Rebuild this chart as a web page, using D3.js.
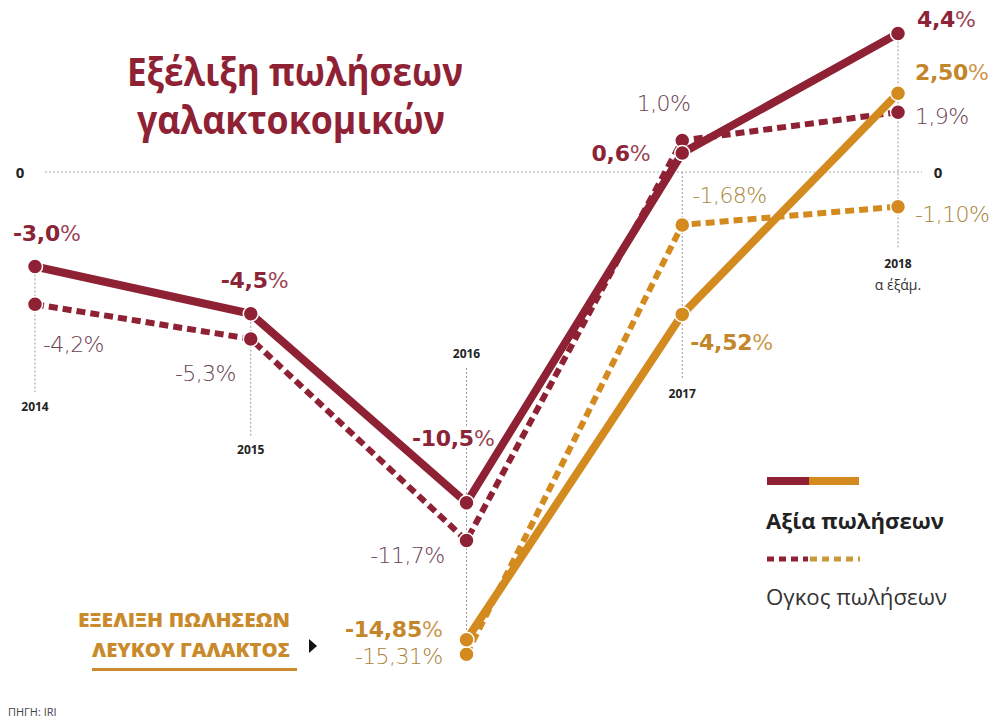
<!DOCTYPE html>
<html>
<head>
<meta charset="UTF-8">
<title>Εξέλιξη πωλήσεων γαλακτοκομικών</title>
<script src="https://cdn.jsdelivr.net/npm/d3@7"></script>
<style>
  body { margin: 0; background: #fff; }
  text { font-family: "Open Sans", "Noto Sans", sans-serif; }
  .halo { paint-order: stroke; stroke: #fff; stroke-width: 4px; stroke-linejoin: round; }
</style>
</head>
<body>
<script>
var w = 995, h = 721;

// data
var years = ["2014", "2015", "2016", "2017", "2018"];
var dairyValue  = [-3.0, -4.5, -10.5, 0.6, 4.4];
var dairyVolume = [-4.2, -5.3, -11.7, 1.0, 1.9];
var milkYears   = ["2016", "2017", "2018"];
var milkValue   = [-14.85, -4.52, 2.50];
var milkVolume  = [-15.31, -1.68, -1.10];
var dairyLabels = ["-3,0", "-4,5", "-10,5", "0,6", "4,4"];
var dairyVolLabels = ["-4,2%", "-5,3%", "-11,7%", "1,0%", "1,9%"];
var milkLabels = ["-14,85", "-4,52", "2,50"];
var milkVolLabels = ["-15,31%", "-1,68%", "-1,10%"];

var red = "#8e2234", orange = "#d38a1f";
var redText = "#8a2436", mauve = "#6a4152", tan = "#a8843c";

var x = d3.scalePoint().domain(years).range([35, 898]);
var y = d3.scaleLinear().domain([0, -10]).range([172, 487]);

var svg = d3.select("body").append("svg")
  .attr("width", w).attr("height", h);

// title
svg.append("text").attr("x", 127).attr("y", 86)
  .attr("fill", red).style("font-size", "39px").style("font-weight", 700)
  .attr("textLength", 336).attr("lengthAdjust", "spacingAndGlyphs")
  .text("Εξέλιξη πωλήσεων");
svg.append("text").attr("x", 137).attr("y", 134)
  .attr("fill", red).style("font-size", "39px").style("font-weight", 700)
  .attr("textLength", 308).attr("lengthAdjust", "spacingAndGlyphs")
  .text("γαλακτοκομικών");

// zero line
svg.append("line").attr("x1", 45).attr("x2", 922).attr("y1", y(0)).attr("y2", y(0))
  .attr("stroke", "#aaa").attr("stroke-width", 1).attr("stroke-dasharray", "2,2");
svg.append("text").attr("x", 20).attr("y", y(0) + 6).attr("text-anchor", "middle")
  .style("font-size", "15px").style("font-weight", 700).attr("fill", "#222").text("0");
svg.append("text").attr("x", 938).attr("y", y(0) + 6).attr("text-anchor", "middle")
  .style("font-size", "15px").style("font-weight", 700).attr("fill", "#222").text("0");

// year guides
var guides = [
  {y1: y(dairyValue[0]), y2: 392, ly: 411},
  {y1: y(dairyValue[1]), y2: 436, ly: 454},
  {y1: 368, y2: y(milkVolume[0]), ly: 358},
  {y1: y(0), y2: 380, ly: 398},
  {y1: y(dairyValue[4]), y2: 248, ly: 268}
];
svg.selectAll(".guide").data(years).enter().append("line")
  .attr("class", "guide")
  .attr("x1", d => x(d)).attr("x2", d => x(d))
  .attr("y1", (d, i) => guides[i].y1).attr("y2", (d, i) => guides[i].y2)
  .attr("stroke", "#999").attr("stroke-width", 1).attr("stroke-dasharray", "2,2");
svg.selectAll(".year").data(years).enter().append("text")
  .attr("class", "year")
  .attr("x", d => x(d)).attr("y", (d, i) => guides[i].ly)
  .attr("text-anchor", "middle").attr("fill", "#222")
  .style("font-size", "12px").style("font-weight", 700).text(d => d);
svg.append("text").attr("x", x("2018")).attr("y", 290).attr("text-anchor", "middle")
  .attr("fill", "#333").style("font-size", "14px").text("α ΄εξάμ.");

var line = d3.line().x(d => x(d[0])).y(d => y(d[1]));

function series(keys, vals, color, dashed) {
  var pts = keys.map((k, i) => [k, vals[i]]);
  svg.append("path").datum(pts).attr("d", line)
    .attr("fill", "none").attr("stroke", color)
    .attr("stroke-width", dashed ? 6 : 8)
    .attr("stroke-dasharray", dashed ? "9,5" : null);
  svg.selectAll(null).data(pts).enter().append("circle")
    .attr("cx", d => x(d[0])).attr("cy", d => y(d[1])).attr("r", 7.5)
    .attr("fill", color).attr("stroke", "#fff").attr("stroke-width", 1.5);
}
series(years, dairyVolume, red, true);
series(years, dairyValue, red, false);
series(milkYears, milkVolume, orange, true);
series(milkYears, milkValue, orange, false);

// label offsets relative to points
var dvOff = [[-22, -26, "start"], [-30, -26, "start"], [28, -57, "end"], [-32, 8, "end"], [19, -6, "start"]];
var dvolOff = [[8, 48, "start"], [-15, 42, "end"], [-22, 22, "end"], [8, -30, "end"], [17, 12, "start"]];
var mvOff = [[-24, -3, "end"], [8, 36, "start"], [17, -13, "start"]];
var mvolOff = [[-24, 10, "end"], [10, -22, "start"], [17, 15, "start"]];

function boldLabels(keys, vals, labels, off, color) {
  var t = svg.selectAll(null).data(keys).enter().append("text")
    .attr("class", "halo")
    .attr("x", (d, i) => x(d) + off[i][0]).attr("y", (d, i) => y(vals[i]) + off[i][1])
    .attr("text-anchor", (d, i) => off[i][2]).attr("fill", color)
    .style("font-family", "'DejaVu Sans', sans-serif")
    .style("font-size", "22px").style("letter-spacing", "-0.3px");
  t.append("tspan").style("font-weight", 700).text((d, i) => labels[i]);
  t.append("tspan").style("font-weight", 400).style("opacity", 0.85).text("%");
}
function plainLabels(keys, vals, labels, off, color) {
  svg.selectAll(null).data(keys).enter().append("text")
    .attr("class", "halo")
    .attr("x", (d, i) => x(d) + off[i][0]).attr("y", (d, i) => y(vals[i]) + off[i][1])
    .attr("text-anchor", (d, i) => off[i][2]).attr("fill", color)
    .style("font-family", "'DejaVu Sans', sans-serif")
    .style("font-size", "22px").style("font-weight", 200).style("letter-spacing", "-0.6px")
    .text((d, i) => labels[i]);
}
boldLabels(years, dairyValue, dairyLabels, dvOff, redText);
plainLabels(years, dairyVolume, dairyVolLabels, dvolOff, mauve);
boldLabels(milkYears, milkValue, milkLabels, mvOff, "#c4862a");
plainLabels(milkYears, milkVolume, milkVolLabels, mvolOff, tan);

// milk label
svg.append("text").attr("x", 78).attr("y", 627)
  .attr("fill", "#c98a2c").style("font-size", "19px").style("font-weight", 800)
  .attr("textLength", 212).attr("lengthAdjust", "spacingAndGlyphs")
  .text("ΕΞΕΛΙΞΗ ΠΩΛΗΣΕΩΝ");
svg.append("text").attr("x", 92).attr("y", 657)
  .attr("fill", "#c98a2c").style("font-size", "19px").style("font-weight", 800)
  .attr("textLength", 198).attr("lengthAdjust", "spacingAndGlyphs")
  .text("ΛΕΥΚΟΥ ΓΑΛΑΚΤΟΣ");
svg.append("rect").attr("x", 92).attr("y", 668).attr("width", 205).attr("height", 3)
  .attr("fill", "#c98a2c");
svg.append("path").attr("d", "M309,639 L317,646 L309,653 Z").attr("fill", "#111");

// legend
svg.append("rect").attr("x", 767).attr("y", 477).attr("width", 42).attr("height", 8).attr("fill", red);
svg.append("rect").attr("x", 809).attr("y", 477).attr("width", 50).attr("height", 8).attr("fill", orange);
svg.append("text").attr("x", 766).attr("y", 529).attr("fill", "#222")
  .style("font-size", "22px").style("font-weight", 700)
  .attr("textLength", 178).attr("lengthAdjust", "spacingAndGlyphs").text("Αξία πωλήσεων");
svg.append("line").attr("x1", 767).attr("x2", 808).attr("y1", 559).attr("y2", 559)
  .attr("stroke", red).attr("stroke-width", 5).attr("stroke-dasharray", "7,5");
svg.append("line").attr("x1", 810).attr("x2", 860).attr("y1", 559).attr("y2", 559)
  .attr("stroke", "#c99a3a").attr("stroke-width", 5).attr("stroke-dasharray", "7,5");
svg.append("text").attr("x", 766).attr("y", 605).attr("fill", "#333")
  .style("font-size", "22px")
  .attr("textLength", 181).attr("lengthAdjust", "spacingAndGlyphs").text("Ογκος πωλήσεων");

// source
svg.append("text").attr("x", 8).attr("y", 716).attr("fill", "#444")
  .style("font-size", "11px").text("ΠΗΓΗ: IRI");
</script>
</body>
</html>
